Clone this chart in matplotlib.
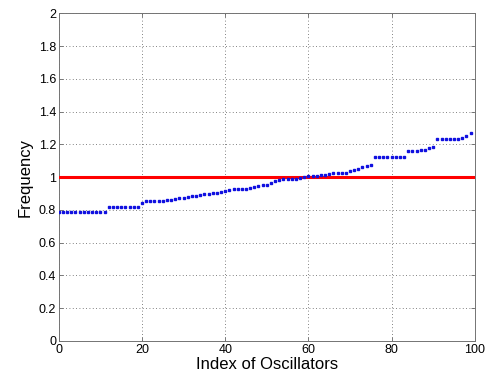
import matplotlib
matplotlib.use('Agg')
import matplotlib.pyplot as plt
import numpy as np

# sorted natural frequencies of the oscillators
freq = [0.786] * 12 + [
    0.815, 0.815, 0.82, 0.82, 0.82, 0.82, 0.82, 0.82,          # 12-19
    0.844, 0.853, 0.856, 0.856, 0.856, 0.856,                  # 20-25
    0.858, 0.862, 0.866, 0.872, 0.874, 0.878, 0.884, 0.886,    # 26-33
    0.89, 0.894, 0.9, 0.906, 0.906, 0.908, 0.916, 0.924,       # 34-41
    0.926, 0.926, 0.928, 0.93, 0.934, 0.94, 0.946, 0.95,       # 42-49
    0.955, 0.963, 0.976, 0.984, 0.988, 0.988, 0.988, 0.989,    # 50-57
    0.995, 1.0, 1.008, 1.008, 1.01, 1.014, 1.016, 1.022,       # 58-65
    1.024, 1.024, 1.025, 1.025, 1.04, 1.045, 1.051, 1.061,     # 66-73
    1.065, 1.074, 1.122, 1.122, 1.122, 1.122, 1.122, 1.122,    # 74-81
    1.122, 1.126, 1.16, 1.162, 1.162, 1.164, 1.168, 1.181,     # 82-89
    1.187, 1.234, 1.234, 1.234, 1.234, 1.234, 1.234, 1.236,    # 90-97
    1.249, 1.272,                                              # 98-99
]
index = np.arange(len(freq))
mean_freq = 1.0

plt.rcParams['font.family'] = ['Liberation Sans', 'DejaVu Sans']

fig = plt.figure(figsize=(4.9, 3.83), dpi=100)
ax = fig.add_axes([0.12, 0.11, 0.849, 0.855])

ax.plot([0, 100], [mean_freq, mean_freq], color='red', lw=2.2, zorder=3)
ax.plot(index, freq, ls='none', marker='s', ms=1.6, mec='#1010e0', mfc='#1010e0', zorder=4)

ax.set_xlim(0, 100)
ax.set_ylim(0, 2)
ax.set_xticks(np.arange(0, 101, 20))
ax.set_yticks(np.arange(0, 2.01, 0.2))
ax.set_yticklabels(['0', '0.2', '0.4', '0.6', '0.8', '1', '1.2', '1.4', '1.6', '1.8', '2'])
ax.grid(True, color='0.35', ls=(0, (1, 3)), lw=0.6)
ax.tick_params(direction='in', top=True, right=True, length=3, labelsize=9, width=0.6,
               color='0.4', pad=2)
for s in ax.spines.values():
    s.set_linewidth(0.7)
    s.set_color('0.45')

ax.set_xlabel('Index of Oscillators', fontsize=12, labelpad=1)
ax.set_ylabel('Frequency', fontsize=12, labelpad=4)

fig.savefig('out.png', dpi=100)
